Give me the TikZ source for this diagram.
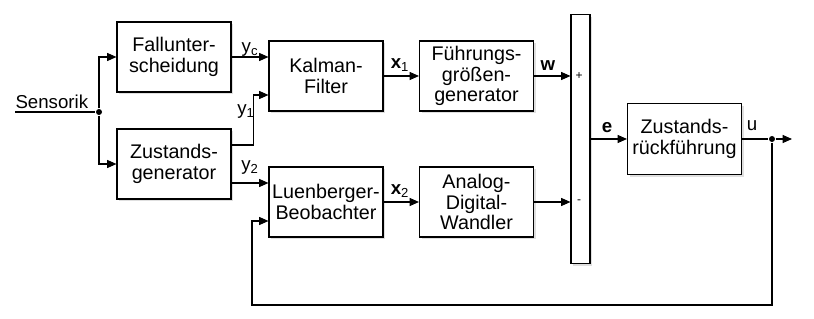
\documentclass[tikz,border=0pt]{standalone}
\usepackage{fontspec}
\setmainfont{Liberation Sans}
\usepackage{tikz}
\usetikzlibrary{arrows.meta,shadows}

\begin{document}
\begin{tikzpicture}[->,>={Triangle[length=7pt,width=6pt]},x=0.75pt,y=0.75pt,line width=0.8pt,
    block/.style={draw,fill=white,align=center,inner sep=1pt,font=\fontsize{14.8}{15.5}\selectfont,
        minimum width=85.5pt,minimum height=52.5pt,
        drop shadow={shadow xshift=1.8pt,shadow yshift=-1.8pt,opacity=0.25}},
    sig/.style={inner sep=0pt,font=\fontsize{14}{15}\selectfont},
    sign/.style={inner sep=0pt,font=\fontsize{9}{9}\selectfont},
    dot/.style={circle,fill,inner sep=0pt,minimum size=4.5pt}]

    \useasboundingbox (0,0) rectangle (814,318);

    % The blocks
    \node [block] at (174,261) (fall) {Fallunter-\\scheidung};
    \node [block] at (174,154) (zgen) {Zustands-\\generator};
    \node [block] at (326,242) (kalman) {Kalman-\\Filter};
    \node [block] at (476.5,242) (fuehr) {Führungs-\\größen-\\generator};
    \node [block] at (326,116) (luen) {Luenberger-\\Beobachter};
    \node [block] at (476.5,116) (adw) {Analog-\\Digital-\\Wandler};
    \node [block,minimum width=14.25pt,minimum height=186.75pt] at (580.5,179) (sum) {};
    \node [block,minimum height=53.25pt] at (684.5,179) (zrf) {Zustands-\\rückführung};

    % Input, branch points and loose ends
    \node [sig,anchor=south west,inner ysep=2pt] at (15,206) (sens) {Sensorik};
    \node [dot] at (99,206) (split) {};
    \node [dot] at (772,179) (ufork) {};
    \coordinate (uout) at (792,179);
    \coordinate (fb) at (252,13);

    % Signal lines
    \draw[-] (sens.south west) -- (split);
    \draw (split) |- (fall);
    \draw (split) |- (zgen);
    \draw (fall.east) -- (fall.east -| kalman.west);
    \draw ([yshift=14.25pt]zgen.east) -- ++(22,0) |- ([yshift=-14.25pt]kalman.west);
    \draw ([yshift=-14.25pt]zgen.east) -- ([yshift=-14.25pt]zgen.east -| luen.west);
    \path[->]
    (kalman) edge (fuehr)
    (luen) edge (adw);
    \draw (fuehr.east) -- (fuehr.east -| sum.west);
    \draw (adw.east) -- (adw.east -| sum.west);
    \draw (sum) -- (zrf);
    \draw[-] (zrf) -- (ufork);
    \draw (ufork) -- (uout);
    \draw (ufork) |- (fb) |- ([yshift=-14.25pt]luen.west);

    % Signal names
    \node [sig] at (250,268) {y\textsubscript{c}};
    \node [sig] at (246,206) {y\textsubscript{1}};
    \node [sig] at (250,150) {y\textsubscript{2}};
    \node [sig] at (400,253) {\textbf{x}\textsubscript{1}};
    \node [sig] at (400,127) {\textbf{x}\textsubscript{2}};
    \node [sig] at (548,252) {\textbf{w}};
    \node [sig] at (607,190) {\textbf{e}};
    \node [sig] at (752,192) {u};
    \node [sign] at (579,242) {+};
    \node [sign] at (579,116) {-};

\end{tikzpicture}
\end{document}
